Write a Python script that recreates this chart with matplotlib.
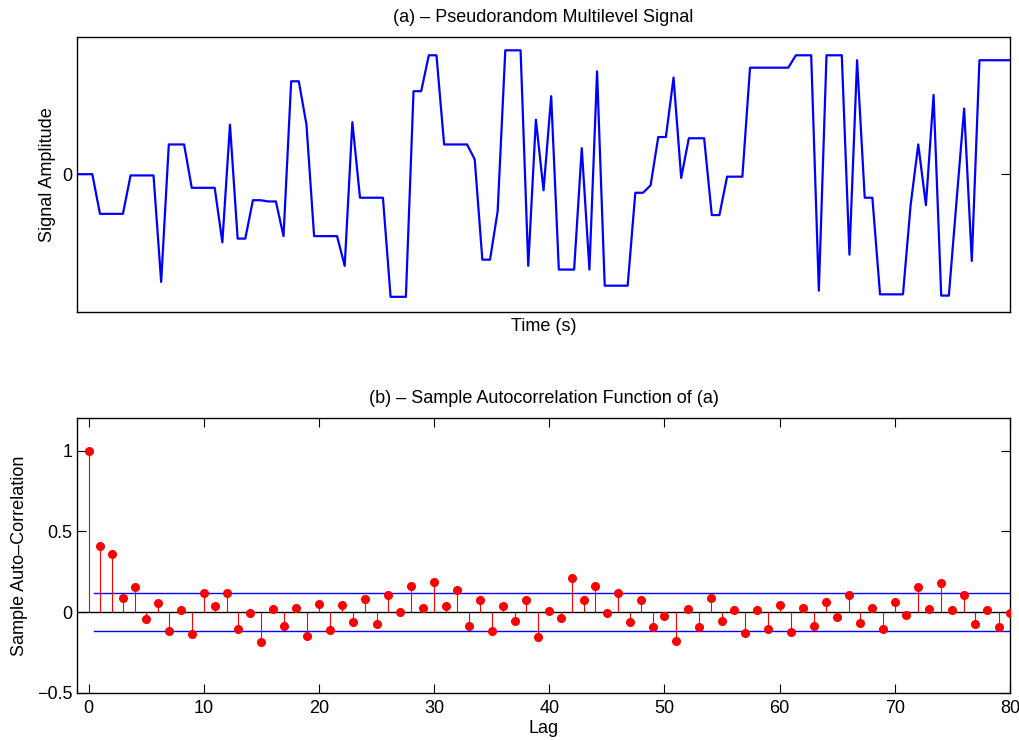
import numpy as np
import matplotlib
matplotlib.use("Agg")
import matplotlib.pyplot as plt

plt.rcParams["font.family"] = ["Liberation Sans", "DejaVu Sans"]
plt.rcParams["font.size"] = 13

# (a) pseudorandom multilevel signal, one value per sample
signal = [
    0.00, 0.00, 0.00, -0.32, -0.32, -0.32, -0.32, -0.01, -0.01, -0.01,
    -0.01, -0.87, 0.24, 0.24, 0.24, -0.11, -0.11, -0.11, -0.11, -0.55,
    0.40, -0.52, -0.52, -0.21, -0.21, -0.22, -0.22, -0.50, 0.75, 0.75,
    0.40, -0.50, -0.50, -0.50, -0.50, -0.74, 0.42, -0.19, -0.19, -0.19,
    -0.19, -0.99, -0.99, -0.99, 0.67, 0.67, 0.96, 0.96, 0.24, 0.24,
    0.24, 0.24, 0.12, -0.69, -0.69, -0.30, 1.00, 1.00, 1.00, -0.74,
    0.44, -0.13, 0.63, -0.77, -0.77, -0.77, 0.21, -0.77, 0.83, -0.90,
    -0.90, -0.90, -0.90, -0.15, -0.15, -0.09, 0.30, 0.30, 0.78, -0.03,
    0.29, 0.29, 0.29, -0.33, -0.33, -0.02, -0.02, -0.02, 0.86, 0.86,
    0.86, 0.86, 0.86, 0.86, 0.96, 0.96, 0.96, -0.94, 0.96, 0.96,
    0.96, -0.65, 0.92, -0.19, -0.19, -0.97, -0.97, -0.97, -0.97, -0.25,
    0.24, -0.25, 0.64, -0.98, -0.98, -0.22, 0.53, -0.70, 0.92, 0.92,
    0.92, 0.92, 0.92,
]

# (b) sample autocorrelation, lags 0..80
acf = [
    1.000, 0.411, 0.360, 0.087, 0.157, -0.043, 0.058, -0.120, 0.012, -0.138,
    0.116, 0.039, 0.116, -0.107, -0.006, -0.184, 0.021, -0.085, 0.027, -0.147,
    0.052, -0.110, 0.045, -0.062, 0.079, -0.074, 0.105, 0.002, 0.161, 0.023,
    0.186, 0.039, 0.138, -0.085, 0.072, -0.116, 0.035, -0.056, 0.074, -0.157,
    0.006, -0.039, 0.213, 0.072, 0.163, -0.006, 0.118, -0.064, 0.076, -0.091,
    -0.023, -0.178, 0.019, -0.095, 0.085, -0.054, 0.010, -0.130, 0.010, -0.107,
    0.045, -0.126, 0.027, -0.087, 0.062, -0.031, 0.103, -0.066, 0.025, -0.105,
    0.062, -0.017, 0.155, 0.019, 0.180, 0.012, 0.103, -0.074, 0.010, -0.095,
    -0.008,
]
bound = 0.116

t = np.arange(len(signal))
lags = np.arange(len(acf))

fig = plt.figure(figsize=(10.19, 7.40), dpi=100)

# top panel
ax1 = fig.add_axes([0.0756, 0.5788, 0.9156, 0.3716])
ax1.plot(t, signal, color="#0000ff", linewidth=1.6)
ax1.set_xlim(0, len(signal) - 1)
ax1.set_ylim(-1.11, 1.11)
ax1.set_xticks([])
ax1.set_yticks([0])
ax1.tick_params(axis="y", direction="in", length=6.5, left=True, right=True)
ax1.set_title("(a) \u2013 Pseudorandom Multilevel Signal", fontsize=13, pad=10.5)
ax1.set_xlabel("Time (s)", labelpad=4.5)
ax1.set_ylabel("Signal Amplitude", labelpad=4)

# bottom panel
ax2 = fig.add_axes([0.0756, 0.0639, 0.9156, 0.3707])
ax2.axhline(0, color="black", linewidth=1.0, zorder=1)
ax2.plot([0.5, lags[-1]], [bound, bound], color="#0000ff", linewidth=1.0)
ax2.plot([0.5, lags[-1]], [-bound, -bound], color="#0000ff", linewidth=1.0)
ax2.vlines(lags, 0, acf, color="#ff0000", linewidth=0.8, zorder=2)
ax2.plot(lags, acf, "o", color="#ff0000", markersize=5.5, zorder=3)
ax2.set_xlim(-1, 80)
ax2.set_ylim(-0.5, 1.2)
ax2.set_xticks(np.arange(0, 81, 10))
ax2.set_yticks([-0.5, 0, 0.5, 1])
ax2.set_yticklabels(["\u22120.5", "0", "0.5", "1"])
ax2.tick_params(direction="in", length=6.5, top=True, right=True)
ax2.tick_params(axis="x", pad=5.5)
ax2.set_title("(b) \u2013 Sample Autocorrelation Function of (a)", fontsize=13, pad=11)
ax2.set_xlabel("Lag", labelpad=2)
ax2.set_ylabel("Sample Auto\u2013Correlation", labelpad=6.5)

for ax in (ax1, ax2):
    for s in ax.spines.values():
        s.set_linewidth(1.0)

fig.savefig("out.png", dpi=100)
